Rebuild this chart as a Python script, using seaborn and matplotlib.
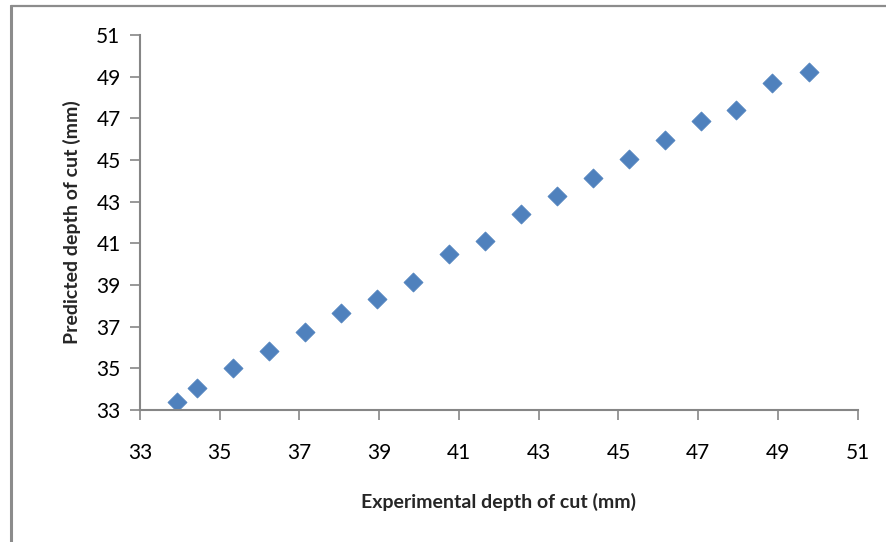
import matplotlib
matplotlib.use("Agg")
import matplotlib.pyplot as plt
from matplotlib.lines import Line2D
import seaborn as sns
import pandas as pd

experimental = [33.93, 34.43, 35.33, 36.23, 37.14, 38.04, 38.94, 39.84, 40.74, 41.65,
                42.55, 43.45, 44.35, 45.26, 46.16, 47.06, 47.96, 48.86, 49.77]
predicted = [33.38, 34.06, 35.00, 35.83, 36.74, 37.65, 38.32, 39.14, 40.48, 41.10,
             42.40, 43.26, 44.13, 45.04, 45.95, 46.86, 47.39, 48.68, 49.21]
ticks = [33, 35, 37, 39, 41, 43, 45, 47, 49, 51]

df = pd.DataFrame({"x": experimental, "y": predicted})

sns.set_style("white")
plt.rcParams['font.family'] = ['Lato', 'DejaVu Sans']

fig = plt.figure(figsize=(8.86, 5.42), dpi=100)
ax = fig.add_axes([0.158, 0.2435, 0.81, 0.692])

sns.scatterplot(data=df, x="x", y="y", marker="D", s=95, color="#4F81BD",
                edgecolor="#4F81BD", linewidth=0.5, ax=ax)

ax.set_xlim(33, 51)
ax.set_ylim(33, 51)
ax.set_xticks(ticks)
ax.set_yticks(ticks)
ax.set_xticklabels([str(t) for t in ticks])
ax.set_yticklabels([str(t) for t in ticks])

for side in ["top", "right"]:
    ax.spines[side].set_visible(False)
for side in ["left", "bottom"]:
    ax.spines[side].set_color("#868686")
    ax.spines[side].set_linewidth(1.5)

ax.tick_params(axis="both", bottom=True, left=True, direction="out", length=7, width=1.2,
               color="#868686", labelsize=15, labelcolor="black")
ax.tick_params(axis="x", pad=17)
ax.tick_params(axis="y", pad=7)

ax.set_xlabel("Experimental depth of cut (mm)", fontsize=14, fontweight="bold", labelpad=21)
ax.set_ylabel("Predicted depth of cut (mm)", fontsize=14, fontweight="bold", labelpad=11)

# figure frame lines (top and left)
fig.add_artist(Line2D([11/886, 1.0], [1 - 6/542, 1 - 6/542], color="#8C8C8C", linewidth=1.6,
                      transform=fig.transFigure))
fig.add_artist(Line2D([11/886, 11/886], [0, 1 - 6/542], color="#8C8C8C", linewidth=2.2,
                      transform=fig.transFigure))

fig.savefig("out.png", dpi=100)
